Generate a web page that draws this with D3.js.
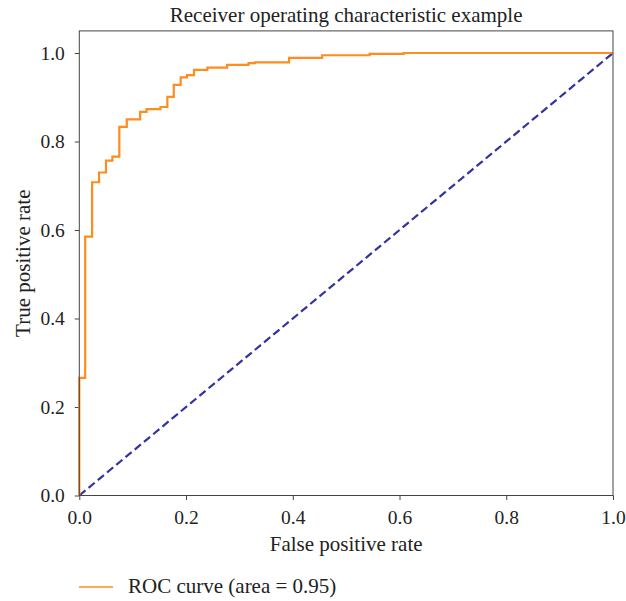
<!DOCTYPE html>
<html><head><meta charset="utf-8">
<script src="https://cdn.jsdelivr.net/npm/d3@7"></script>
<style>
body{margin:0;background:#fff;}
svg{display:block;}
text{font-family:"Liberation Serif","Times New Roman",serif;fill:#222;}
</style></head>
<body><svg id="c" width="626" height="601"></svg>
<script>
// ROC curve corner points (fpr where each vertical jump occurs, tpr after the jump)
const fpr = [0, 0, 0.011, 0.024, 0.037, 0.050, 0.062, 0.075, 0.089, 0.114, 0.126, 0.152, 0.165, 0.177, 0.190, 0.202, 0.215, 0.240, 0.277, 0.317, 0.329, 0.393, 0.455, 0.544, 0.608, 1.0];
const tpr = [0, 0.266, 0.585, 0.708, 0.730, 0.757, 0.766, 0.833, 0.850, 0.867, 0.873, 0.878, 0.901, 0.928, 0.945, 0.950, 0.962, 0.967, 0.973, 0.977, 0.979, 0.989, 0.995, 0.998, 1.0, 1.0];
const diagX = [0, 1];
const diagY = [0, 1];
const ticks = [0, 0.2, 0.4, 0.6, 0.8, 1.0];
const titleText = "Receiver operating characteristic example";
const xLabel = "False positive rate";
const yLabel = "True positive rate";
const legendLabel = "ROC curve (area = 0.95)";

const svg = d3.select("#c");
const mLeft = 79.3, mRight = 613, mTop = 30.9, mBottom = 495.5;
const x = d3.scaleLinear().domain([0, 1]).range([mLeft, mRight]);
const y = d3.scaleLinear().domain([0, 1.05]).range([mBottom, mTop]);
const orange = "#ff8c1f", navy = "#33339f";

// axes
const xAxis = d3.axisBottom(x).tickValues(ticks).tickFormat(d3.format(".1f")).tickSize(4.5).tickPadding(10.5);
const yAxis = d3.axisLeft(y).tickValues(ticks).tickFormat(d3.format(".1f")).tickSize(4.5).tickPadding(10);
const gx = svg.append("g").attr("transform", `translate(0,${mBottom})`).call(xAxis);
const gy = svg.append("g").attr("transform", `translate(${mLeft},0)`).call(yAxis);
[gx, gy].forEach(g => {
  g.select(".domain").remove();
  g.selectAll(".tick line").attr("stroke", "#444").attr("stroke-width", 1);
  g.selectAll(".tick text").attr("font-size", 19.5).attr("font-family", "Liberation Serif").attr("fill", "#222");
});

// diagonal
svg.append("path")
  .datum(diagX.map((d, i) => [d, diagY[i]]))
  .attr("d", d3.line().x(d => x(d[0])).y(d => y(d[1])))
  .attr("fill", "none").attr("stroke", navy).attr("stroke-width", 2.2)
  .attr("stroke-dasharray", "8,4");

// ROC curve
svg.append("path")
  .datum(fpr.map((d, i) => [d, tpr[i]]))
  .attr("d", d3.line().curve(d3.curveStepAfter).x(d => x(d[0])).y(d => y(d[1])))
  .attr("fill", "none").attr("stroke", orange).attr("stroke-width", 2.2);

// frame
svg.append("rect").attr("x", mLeft).attr("y", mTop).attr("width", mRight - mLeft).attr("height", mBottom - mTop)
  .attr("fill", "none").attr("stroke", "#444").attr("stroke-width", 1);

// title and labels
svg.append("text").attr("x", (mLeft + mRight) / 2).attr("y", 22).attr("text-anchor", "middle")
  .attr("font-size", 21).text(titleText);
svg.append("text").attr("x", (mLeft + mRight) / 2).attr("y", 551).attr("text-anchor", "middle")
  .attr("font-size", 21).text(xLabel);
svg.append("text").attr("transform", `translate(30,${(mTop + mBottom) / 2}) rotate(-90)`).attr("text-anchor", "middle")
  .attr("font-size", 21).text(yLabel);

// legend
svg.append("line").attr("x1", 79).attr("x2", 113).attr("y1", 587).attr("y2", 587)
  .attr("stroke", orange).attr("stroke-width", 1.6);
svg.append("text").attr("x", 128).attr("y", 592.5).attr("font-size", 21).text(legendLabel);
</script></body></html>
